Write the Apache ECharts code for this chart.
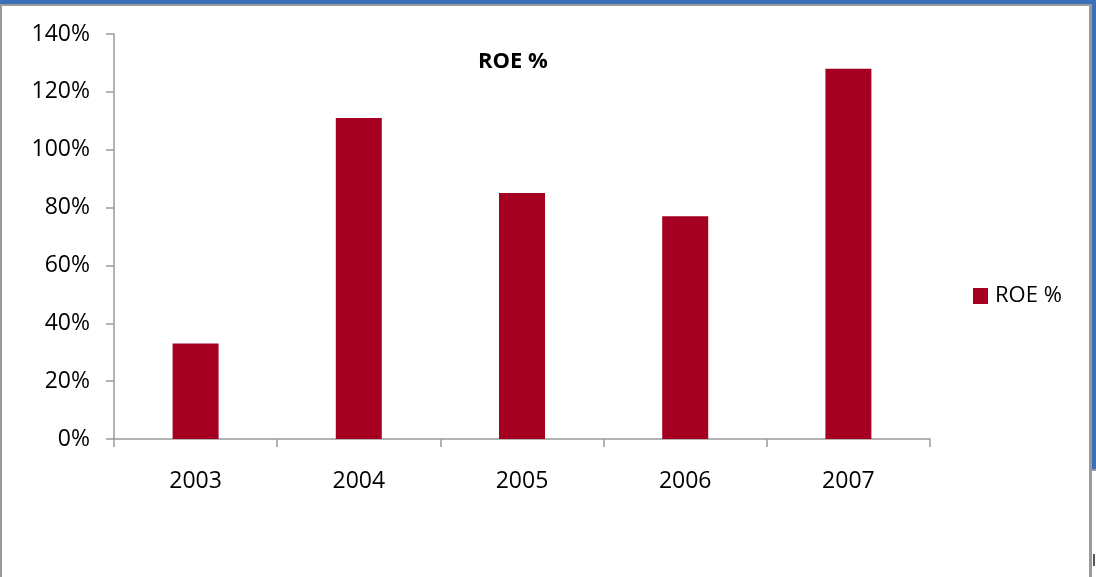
<!DOCTYPE html>
<html>
<head>
<meta charset="utf-8">
<script src="https://cdn.jsdelivr.net/npm/echarts@6/dist/echarts.min.js"></script>
<style>
  html, body { margin: 0; padding: 0; background: #fff; }
  #wrap { position: relative; width: 1096px; height: 577px; overflow: hidden; }
  #chart { position: absolute; left: 0; top: 0; width: 1096px; height: 577px; }
  .edge { position: absolute; }
</style>
</head>
<body>
<div id="wrap">
  <div id="chart"></div>
  <!-- window frame around the chart -->
  <div class="edge" style="left:0;top:0;width:1096px;height:4px;background:#3b70b8;"></div>
  <div class="edge" style="left:0;top:4px;width:1090px;height:2px;background:#9a9a9a;"></div>
  <div class="edge" style="left:0;top:4px;width:2px;height:573px;background:#9a9a9a;"></div>
  <div class="edge" style="left:1089px;top:4px;width:3px;height:573px;background:#9a9a9a;"></div>
  <div class="edge" style="left:1092px;top:0;width:4px;height:469px;background:#3b70b8;"></div>
  <div class="edge" style="left:1092px;top:469px;width:4px;height:2px;background:#9a9a9a;"></div>
  <div class="edge" style="left:1093px;top:554px;width:2px;height:12px;background:#555;"></div>
</div>
<script>
// Return on equity by year
const years = ['2003', '2004', '2005', '2006', '2007'];
const roeValues = [33, 111, 85, 77, 128];
const seriesName = 'ROE %';

const font = '"Open Sans", "Liberation Sans", sans-serif';
const chart = echarts.init(document.getElementById('chart'), null, { renderer: 'canvas' });

chart.setOption({
  animation: false,
  title: {
    text: seriesName,
    left: 473,
    top: 46,
    textStyle: { fontFamily: font, fontSize: 22, fontWeight: 'bold', color: '#000' }
  },
  legend: {
    data: [seriesName],
    left: 968,
    top: 280,
    orient: 'vertical',
    icon: 'rect',
    itemWidth: 15,
    itemHeight: 16,
    itemGap: 0,
    textStyle: { fontFamily: font, fontSize: 22, color: '#000', padding: [0, 0, 0, 2] }
  },
  grid: { left: 114, top: 34, right: 166, bottom: 138, containLabel: false },
  xAxis: {
    type: 'category',
    data: years,
    boundaryGap: true,
    axisLine: { lineStyle: { color: '#9a9a9a', width: 1.5 } },
    axisTick: { show: true, inside: false, length: 8, alignWithLabel: false, lineStyle: { color: '#9a9a9a', width: 1.5 } },
    axisLabel: { margin: 31, fontFamily: font, fontSize: 23, color: '#000' }
  },
  yAxis: {
    type: 'value',
    min: 0,
    max: 140,
    interval: 20,
    axisLine: { show: true, lineStyle: { color: '#9a9a9a', width: 1.5 } },
    axisTick: { show: true, inside: false, length: 8, lineStyle: { color: '#9a9a9a', width: 1.5 } },
    splitLine: { show: false },
    axisLabel: { margin: 24, fontFamily: font, fontSize: 23, color: '#000', formatter: '{value}%' }
  },
  series: [{
    name: seriesName,
    type: 'bar',
    data: roeValues,
    barWidth: 46,
    itemStyle: { color: '#a50021' }
  }]
});
</script>
</body>
</html>
